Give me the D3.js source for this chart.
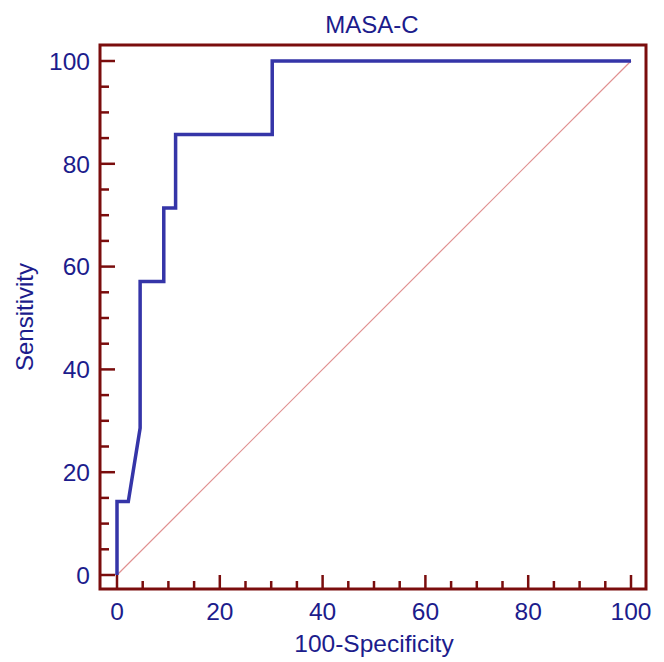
<!DOCTYPE html>
<html><head><meta charset="utf-8">
<script src="https://cdn.jsdelivr.net/npm/d3@7"></script>
<style>body{margin:0;background:#fff}text{font-family:"Liberation Sans",Arial,sans-serif}</style>
</head><body>
<script>
const title = "MASA-C";
const xLabel = "100-Specificity";
const yLabel = "Sensitivity";
const fpr = [0, 0, 2.2, 4.5, 4.5, 9.1, 9.1, 11.4, 11.4, 30.2, 30.2, 100];
const tpr = [0, 14.3, 14.3, 28.6, 57.1, 57.1, 71.4, 71.4, 85.7, 85.7, 100, 100];
const majorTicks = [0, 20, 40, 60, 80, 100];
const minorTicks = d3.range(0, 101, 5).filter(v => v % 20 !== 0);

const W = 664, H = 662;
const svg = d3.select("body").append("svg").attr("width", W).attr("height", H);
const x = d3.scaleLinear().domain([0, 100]).range([117, 631]);
const y = d3.scaleLinear().domain([0, 100]).range([575, 61]);
const frame = {l: 100, t: 45, r: 646, b: 589};
const dark = "#7a0d0d", navy = "#1c1c8c";

// diagonal
svg.append("line").attr("x1", x(0)).attr("y1", y(0)).attr("x2", x(100)).attr("y2", y(100))
  .attr("stroke", "#e09090").attr("stroke-width", 1.2);

// curve
const pts = fpr.map((v, i) => [v, tpr[i]]);
svg.append("path").attr("d", d3.line().x(d => x(d[0])).y(d => y(d[1]))(pts))
  .attr("fill", "none").attr("stroke", "#3535a8").attr("stroke-width", 3.5).attr("stroke-linejoin", "miter");

// ticks
const tg = svg.append("g").attr("stroke", dark).attr("stroke-width", 2.5);
majorTicks.forEach(v => {
  tg.append("line").attr("x1", frame.l).attr("x2", frame.l + 15).attr("y1", y(v)).attr("y2", y(v));
  tg.append("line").attr("y1", frame.b).attr("y2", frame.b - 14).attr("x1", x(v)).attr("x2", x(v));
});
minorTicks.forEach(v => {
  tg.append("line").attr("x1", frame.l).attr("x2", frame.l + 9).attr("y1", y(v)).attr("y2", y(v));
  tg.append("line").attr("y1", frame.b).attr("y2", frame.b - 8).attr("x1", x(v)).attr("x2", x(v));
});

// frame
svg.append("rect").attr("x", frame.l).attr("y", frame.t).attr("width", frame.r - frame.l).attr("height", frame.b - frame.t)
  .attr("fill", "none").attr("stroke", dark).attr("stroke-width", 3);

// tick labels
majorTicks.forEach(v => {
  svg.append("text").attr("x", 90).attr("y", y(v)).attr("dy", "0.36em").attr("text-anchor", "end")
    .attr("font-size", 24.5).attr("fill", navy).text(v);
  svg.append("text").attr("x", x(v)).attr("y", 620).attr("text-anchor", "middle")
    .attr("font-size", 24.5).attr("fill", navy).text(v);
});

svg.append("text").attr("x", 372).attr("y", 33).attr("text-anchor", "middle").attr("font-size", 24).attr("fill", navy).text(title);
svg.append("text").attr("x", 374).attr("y", 652).attr("text-anchor", "middle").attr("font-size", 24.5).attr("fill", navy).text(xLabel);
svg.append("text").attr("transform", "translate(33,317) rotate(-90)").attr("text-anchor", "middle").attr("font-size", 24).attr("fill", navy).text(yLabel);
</script>
</body></html>
